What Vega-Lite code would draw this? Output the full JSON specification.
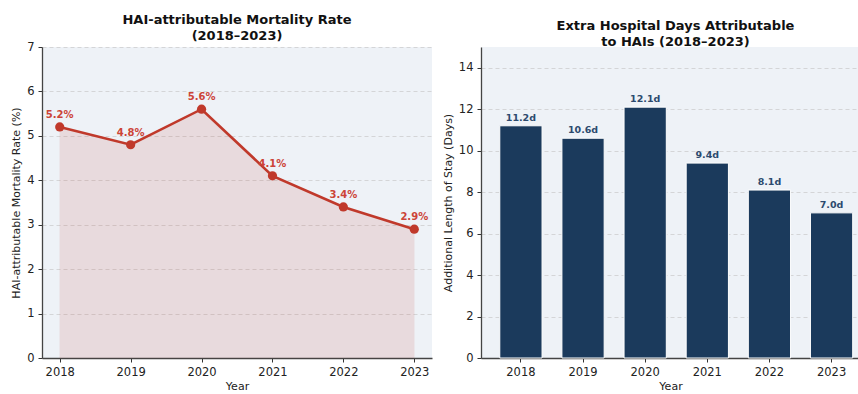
{
  "$schema": "https://vega.github.io/schema/vega-lite/v6.json",
  "padding": {"top": 14, "left": 10, "right": 0, "bottom": 0},
  "background": "#ffffff",
  "spacing": 10,
  "datasets": {
    "mortality": [
      {"Year": 2018, "Rate": 5.2},
      {"Year": 2019, "Rate": 4.8},
      {"Year": 2020, "Rate": 5.6},
      {"Year": 2021, "Rate": 4.1},
      {"Year": 2022, "Rate": 3.4},
      {"Year": 2023, "Rate": 2.9}
    ],
    "stay": [
      {"Year": "2018", "Days": 11.2},
      {"Year": "2019", "Days": 10.6},
      {"Year": "2020", "Days": 12.1},
      {"Year": "2021", "Days": 9.4},
      {"Year": "2022", "Days": 8.1},
      {"Year": "2023", "Days": 7.0}
    ]
  },
  "config": {
    "font": "DejaVu Sans",
    "view": {"fill": "#eef2f7", "stroke": null},
    "title": {"font": "DejaVu Sans", "fontSize": 13, "fontWeight": "bold", "color": "#111111", "lineHeight": 16, "frame": "group", "offset": -2},
    "axis": {
      "labelFont": "DejaVu Sans",
      "labelFontSize": 11.5,
      "labelColor": "#222222",
      "titleFont": "DejaVu Sans",
      "titleFontSize": 11,
      "titleFontWeight": "normal",
      "titleColor": "#222222",
      "tickColor": "#333333",
      "tickSize": 4,
      "labelPadding": 4,
      "domainColor": "#444444",
      "domainWidth": 1.3,
      "gridColor": "#c8c8c8",
      "gridDash": [4, 3],
      "gridWidth": 0.7
    }
  },
  "hconcat": [
    {
      "width": 390,
      "height": 311,
      "title": {"text": ["HAI-attributable Mortality Rate", "(2018–2023)"]},
      "data": {"name": "mortality"},
      "encoding": {
        "x": {
          "field": "Year",
          "type": "quantitative",
          "scale": {"domain": [2017.75, 2023.25], "nice": false, "zero": false},
          "axis": {"title": "Year", "values": [2018, 2019, 2020, 2021, 2022, 2023], "format": "d", "grid": false, "titlePadding": 3}
        },
        "y": {
          "field": "Rate",
          "type": "quantitative",
          "scale": {"domain": [0, 7], "nice": false},
          "axis": {"title": "HAI-attributable Mortality Rate (%)", "values": [0, 1, 2, 3, 4, 5, 6, 7], "grid": true, "titlePadding": 5}
        }
      },
      "layer": [
        {
          "mark": {"type": "area", "color": "#c0392b", "opacity": 0.12, "stroke": "#c0392b", "strokeOpacity": 0.5, "strokeWidth": 0.6}
        },
        {
          "mark": {"type": "line", "color": "#c0392b", "strokeWidth": 2.6}
        },
        {
          "mark": {"type": "point", "filled": true, "color": "#c0392b", "opacity": 1, "size": 85}
        },
        {
          "transform": [{"calculate": "format(datum.Rate, '.1f') + '%'", "as": "label"}],
          "mark": {"type": "text", "color": "#cc4437", "fontWeight": "bold", "fontSize": 10, "baseline": "alphabetic", "dy": -9},
          "encoding": {"text": {"field": "label", "type": "nominal"}}
        }
      ]
    },
    {
      "width": 379,
      "height": 311,
      "title": {"text": ["Extra Hospital Days Attributable", "to HAIs (2018–2023)"], "dx": 5},
      "data": {"name": "stay"},
      "encoding": {
        "x": {
          "field": "Year",
          "type": "nominal",
          "scale": {"type": "band", "paddingInner": 0.32, "paddingOuter": 0.21, "align": 0.72},
          "axis": {"title": "Year", "labelAngle": 0, "grid": false, "titlePadding": 3}
        },
        "y": {
          "field": "Days",
          "type": "quantitative",
          "scale": {"domain": [0, 15], "nice": false},
          "axis": {"title": "Additional Length of Stay (Days)", "values": [0, 2, 4, 6, 8, 10, 12, 14], "grid": true, "titlePadding": 5}
        }
      },
      "layer": [
        {
          "mark": {"type": "bar", "color": "#1b3a5c", "stroke": "#ffffff", "strokeWidth": 1}
        },
        {
          "transform": [{"calculate": "format(datum.Days, '.1f') + 'd'", "as": "label"}],
          "mark": {"type": "text", "color": "#2c4a6e", "fontWeight": "bold", "fontSize": 9.5, "baseline": "alphabetic", "dy": -5},
          "encoding": {"text": {"field": "label", "type": "nominal"}}
        }
      ]
    }
  ]
}
